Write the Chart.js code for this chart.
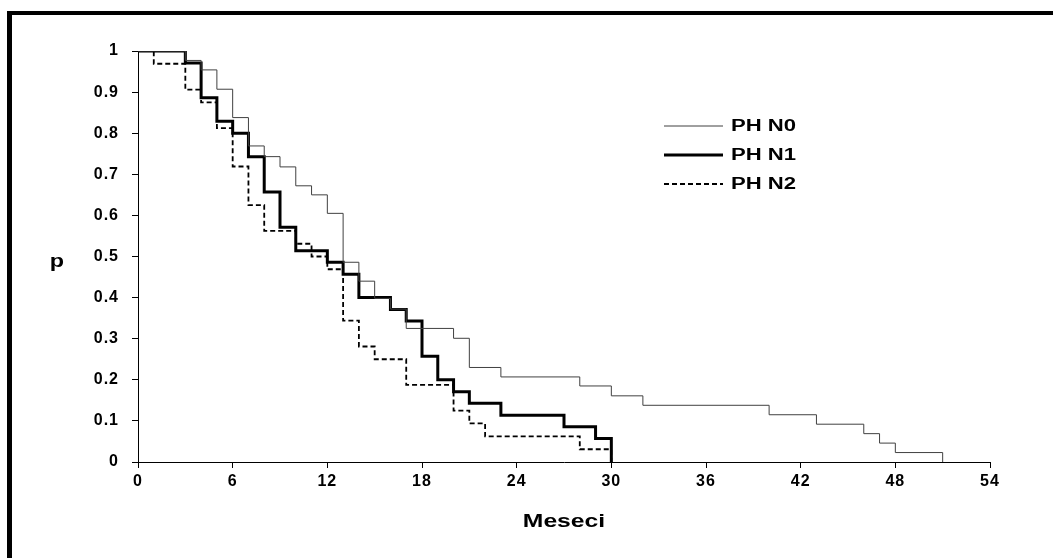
<!DOCTYPE html>
<html>
<head>
<meta charset="utf-8">
<script src="https://cdn.jsdelivr.net/npm/chart.js@4/dist/chart.umd.min.js"></script>
<style>
  html, body { margin: 0; padding: 0; background: #fff; overflow: hidden; }
  #wrap { position: relative; width: 1053px; height: 558px; }
  #frame { position: absolute; left: 7px; top: 11px; width: 2000px; height: 2000px;
           border-top: 4px solid #000; border-left: 5px solid #000; pointer-events: none; }
  canvas { position: absolute; left: 0; top: 0; }
</style>
</head>
<body>
<div id="wrap">
  <canvas id="c" width="1053" height="558"></canvas>
  <div id="frame"></div>
</div>
<script>
// ---- data (Kaplan-Meier steps: month of event, survival after event) ----
const seriesNames = ["PH N0", "PH N1", "PH N2"];

const n0Months = [0, 3, 4, 5, 6, 7, 8, 9, 10, 11, 12, 13, 14, 15, 16, 17, 20, 21, 23, 28, 30, 32, 40, 43, 46, 47, 48, 51];
const n0Values = [1, 0.977, 0.954, 0.907, 0.838, 0.769, 0.743, 0.718, 0.672, 0.65, 0.605, 0.486, 0.44, 0.398, 0.372, 0.325, 0.301, 0.23, 0.207, 0.185, 0.161, 0.138, 0.115, 0.092, 0.069, 0.046, 0.023, 0];

const n1Months = [0, 3, 4, 5, 6, 7, 8, 9, 10, 12, 13, 14, 16, 17, 18, 19, 20, 21, 23, 27, 29, 30];
const n1Values = [1, 0.971, 0.886, 0.829, 0.8, 0.743, 0.657, 0.571, 0.514, 0.486, 0.457, 0.4, 0.371, 0.343, 0.257, 0.2, 0.171, 0.143, 0.114, 0.086, 0.057, 0];

const n2Months = [0, 1, 3, 4, 5, 6, 7, 8, 10, 11, 12, 13, 14, 15, 17, 20, 21, 22, 28, 30];
const n2Values = [1, 0.969, 0.906, 0.875, 0.8125, 0.719, 0.625, 0.5625, 0.531, 0.5, 0.469, 0.344, 0.281, 0.25, 0.1875, 0.125, 0.094, 0.0625, 0.031, 0];

const xTickLabels = ["0", "6", "12", "18", "24", "30", "36", "42", "48", "54"];
const yTickLabels = ["0", "0.1", "0.2", "0.3", "0.4", "0.5", "0.6", "0.7", "0.8", "0.9", "1"];
const xTitle = "Meseci";
const yTitle = "p";

const toPoints = (xs, ys) => xs.map((x, i) => ({ x: x, y: ys[i] }));

const FONT = "'Liberation Sans', Arial, sans-serif";

const styles = [
  { color: "#404040", width: 1, dash: [] },
  { color: "#000000", width: 3, dash: [] },
  { color: "#000000", width: 1.8, dash: [5, 3] }
];

function stretchedText(ctx, text, x, y, sx, font, align) {
  ctx.save();
  ctx.translate(x, y);
  ctx.scale(sx, 1);
  ctx.fillStyle = "#000";
  ctx.font = font;
  ctx.textBaseline = "middle";
  ctx.textAlign = align;
  ctx.fillText(text, 0, 0);
  ctx.restore();
}

const textPlugin = {
  id: "customText",
  beforeDraw(chart) {
    chart.ctx.letterSpacing = "1px";
  },
  afterDraw(chart) {
    const ctx = chart.ctx;
    ctx.save();
    ctx.letterSpacing = "0px";
    const rows = [126, 155, 184];
    chart.data.datasets.forEach((ds, i) => {
      const y = rows[i];
      ctx.beginPath();
      ctx.strokeStyle = ds.borderColor;
      ctx.lineWidth = ds.borderWidth;
      ctx.setLineDash(ds.borderDash || []);
      ctx.moveTo(664, y);
      ctx.lineTo(723, y);
      ctx.stroke();
      ctx.setLineDash([]);
      stretchedText(ctx, ds.label, 731, y + 1, 1.38, "bold 16px " + FONT, "left");
    });
    // axis titles
    const area = chart.chartArea;
    stretchedText(ctx, yTitle, 57, 262, 1.3, "bold 18px " + FONT, "center");
    stretchedText(ctx, xTitle, (area.left + area.right) / 2, 522, 1.3, "bold 19px " + FONT, "center");
    ctx.restore();
  }
};

new Chart(document.getElementById("c"), {
  type: "line",
  data: {
    datasets: [
      { label: seriesNames[0], data: toPoints(n0Months, n0Values) },
      { label: seriesNames[1], data: toPoints(n1Months, n1Values) },
      { label: seriesNames[2], data: toPoints(n2Months, n2Values) }
    ].map((d, i) => Object.assign(d, {
      borderColor: styles[i].color,
      borderWidth: styles[i].width,
      borderDash: styles[i].dash,
      backgroundColor: styles[i].color,
      stepped: "before",
      fill: false,
      pointRadius: 0,
      pointHoverRadius: 0,
      borderCapStyle: "butt",
      borderJoinStyle: "miter",
      tension: 0
    }))
  },
  options: {
    responsive: false,
    animation: false,
    events: [],
    layout: { padding: { top: 51, right: 63, left: 0, bottom: 0 } },
    plugins: { legend: { display: false }, tooltip: { enabled: false } },
    scales: {
      x: {
        type: "linear",
        min: 0, max: 54,
        afterFit(s) { s.height = 96; },
        afterBuildTicks(s) { s.ticks = xTickLabels.map(v => ({ value: Number(v) })); },
        ticks: {
          callback: (v, i) => xTickLabels[i],
          color: "#000",
          font: { family: FONT, size: 16, weight: "bold" },
          padding: 4,
          maxRotation: 0,
          autoSkip: false
        },
        grid: { drawOnChartArea: false, drawTicks: true, tickLength: 6, color: "#000", lineWidth: 1 },
        border: { display: true, color: "#000", width: 1 },
        title: { display: false }
      },
      y: {
        type: "linear",
        min: 0, max: 1,
        afterFit(s) { s.width = 138; },
        afterBuildTicks(s) { s.ticks = yTickLabels.map(v => ({ value: Number(v) })); },
        ticks: {
          callback: (v, i) => yTickLabels[i],
          color: "#000",
          font: { family: FONT, size: 16, weight: "bold" },
          padding: 13,
          autoSkip: false
        },
        grid: { drawOnChartArea: false, drawTicks: true, tickLength: 6, color: "#000", lineWidth: 1 },
        border: { display: true, color: "#000", width: 1 }
      }
    }
  },
  plugins: [textPlugin]
});
</script>
</body>
</html>
